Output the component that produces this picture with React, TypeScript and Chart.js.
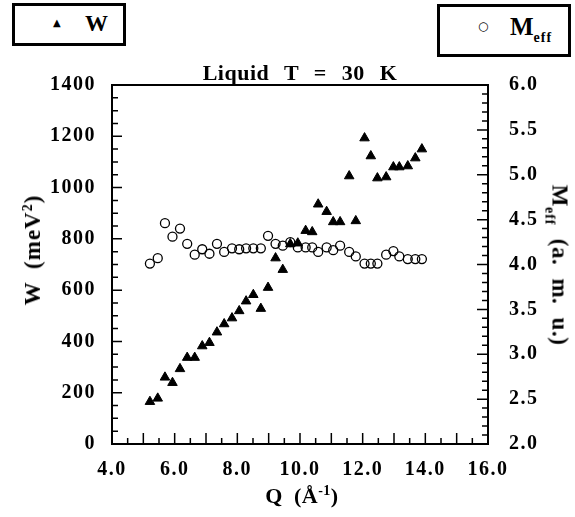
import React, { useEffect, useRef } from "react";
import { Chart, registerables } from "chart.js";

Chart.register(...registerables);

const Q = [5.21, 5.46, 5.69, 5.93, 6.17, 6.4, 6.64, 6.88, 7.11, 7.35, 7.58, 7.83, 8.06, 8.28, 8.51, 8.75, 8.98, 9.22, 9.45, 9.69, 9.93, 10.18, 10.39, 10.58, 10.85, 11.06, 11.28, 11.57, 11.78, 12.06, 12.26, 12.47, 12.75, 12.98, 13.17, 13.44, 13.68, 13.89];
const W = [165, 178, 260, 239, 293, 337, 337, 382, 395, 436, 468, 491, 519, 557, 582, 528, 610, 725, 680, 780, 783, 832, 827, 935, 906, 866, 866, 1045, 870, 1193, 1123, 1037, 1041, 1080, 1080, 1084, 1115, 1150];
const MEFF = [4.01, 4.07, 4.46, 4.31, 4.4, 4.23, 4.11, 4.17, 4.12, 4.23, 4.14, 4.18, 4.17, 4.18, 4.18, 4.18, 4.32, 4.23, 4.21, 4.25, 4.19, 4.19, 4.19, 4.14, 4.19, 4.16, 4.21, 4.14, 4.09, 4.01, 4.01, 4.01, 4.11, 4.15, 4.09, 4.06, 4.06, 4.06];

const X_TICKS = [4, 6, 8, 10, 12, 14, 16];
const W_TICKS = [0, 200, 400, 600, 800, 1000, 1200, 1400];
const M_TICKS = [2.0, 2.5, 3.0, 3.5, 4.0, 4.5, 5.0, 5.5, 6.0];

const FONT = "'Liberation Serif', 'Times New Roman', serif";

const framePlugin = {
  id: "frame",
  beforeDraw(chart: any) {
    chart.ctx.letterSpacing = "1.5px";
  },
  beforeDatasetsDraw(chart: any) {
    const { ctx, chartArea: a, scales } = chart;
    ctx.save();
    ctx.strokeStyle = "#000";
    ctx.lineWidth = 2;
    ctx.beginPath();
    ctx.moveTo(a.left - 1, a.top);
    ctx.lineTo(a.right + 1, a.top);
    ctx.stroke();
    ctx.lineWidth = 1.5;
    ctx.beginPath();
    for (let i = 0; i <= 28; i++) {
      const y = scales.y.getPixelForValue(i * 50);
      const len = i % 4 === 0 ? 10 : 6;
      ctx.moveTo(a.left, y);
      ctx.lineTo(a.left + len, y);
    }
    for (let i = 0; i <= 40; i++) {
      const y = scales.y1.getPixelForValue(2 + i * 0.1);
      const len = i % 5 === 0 ? 11 : 6;
      ctx.moveTo(a.right, y);
      ctx.lineTo(a.right - len, y);
    }
    for (let i = 0; i <= 24; i++) {
      const x = scales.x.getPixelForValue(4 + i * 0.5);
      const len = i % 2 === 0 ? 11 : 6;
      ctx.moveTo(x, a.bottom);
      ctx.lineTo(x, a.bottom - len);
    }
    ctx.stroke();
    ctx.restore();
  },
};

export default function App() {
  const ref = useRef<HTMLCanvasElement | null>(null);

  useEffect(() => {
    if (!ref.current) return;
    const tickFont = { family: FONT, size: 20, weight: "bold" as const };
    const chart = new Chart(ref.current, {
      type: "scatter",
      data: {
        datasets: [
          {
            label: "W",
            data: Q.map((q, i) => ({ x: q, y: W[i] })),
            yAxisID: "y",
            pointStyle: "triangle",
            pointRadius: 5.5,
            backgroundColor: "#000",
            borderColor: "#000",
            borderWidth: 1,
          },
          {
            label: "Meff",
            data: Q.map((q, i) => ({ x: q, y: MEFF[i] })),
            yAxisID: "y1",
            pointStyle: "circle",
            pointRadius: 4.5,
            backgroundColor: "rgba(0,0,0,0)",
            borderColor: "#000",
            borderWidth: 1.3,
          },
        ],
      },
      options: {
        animation: false,
        responsive: false,
        maintainAspectRatio: false,
        events: [],
        layout: { padding: { top: 85, left: 0, right: 0, bottom: 0 } },
        plugins: {
          legend: { display: false },
          tooltip: { enabled: false },
          title: { display: false },
        },
        scales: {
          x: {
            type: "linear",
            position: "bottom",
            min: 4,
            max: 16,
            afterBuildTicks: (s: any) => {
              s.ticks = X_TICKS.map((v) => ({ value: v }));
            },
            afterFit: (s: any) => {
              s.height = 73;
            },
            grid: { display: false },
            border: { display: true, color: "#000", width: 2 },
            ticks: {
              color: "#000",
              font: tickFont,
              padding: 6,
              maxRotation: 0,
              autoSkip: false,
              callback: (v: any) => Number(v).toFixed(1),
            },
          },
          y: {
            type: "linear",
            position: "left",
            min: 0,
            max: 1400,
            afterBuildTicks: (s: any) => {
              s.ticks = W_TICKS.map((v) => ({ value: v }));
            },
            afterFit: (s: any) => {
              s.width = 112;
            },
            grid: { display: false },
            border: { display: true, color: "#000", width: 2 },
            ticks: {
              color: "#000",
              font: tickFont,
              padding: 8,
              autoSkip: false,
              callback: (v: any) => String(v),
            },
          },
          y1: {
            type: "linear",
            position: "right",
            min: 2,
            max: 6,
            afterBuildTicks: (s: any) => {
              s.ticks = M_TICKS.map((v) => ({ value: v }));
            },
            afterFit: (s: any) => {
              s.width = 87;
            },
            grid: { display: false },
            border: { display: true, color: "#000", width: 2 },
            ticks: {
              color: "#000",
              font: tickFont,
              padding: 13,
              autoSkip: false,
              callback: (v: any) => Number(v).toFixed(1),
            },
          },
        },
      },
      plugins: [framePlugin],
    });
    return () => chart.destroy();
  }, []);

  const bold: React.CSSProperties = {
    fontFamily: FONT,
    fontWeight: "bold",
    color: "#000",
    whiteSpace: "pre",
    position: "absolute",
  };

  return (
    <div style={{ position: "fixed", left: 0, top: 0, width: 575, height: 517, background: "#fff" }}>
      <canvas ref={ref} width={575} height={517} style={{ position: "absolute", left: 0, top: 0, width: 575, height: 517 }} />
      <div style={{ position: "absolute", left: 12, top: 3, width: 114, height: 43, border: "3px solid #000", boxSizing: "border-box", background: "#fff" }}>
        <span style={{ ...bold, left: 38, top: 11, fontSize: 10, fontFamily: "'DejaVu Sans', sans-serif" }}>▲</span>
        <span style={{ ...bold, left: 70, top: 5, fontSize: 23 }}>W</span>
      </div>
      <div style={{ position: "absolute", left: 437, top: 4, width: 134, height: 53, border: "3px solid #000", boxSizing: "border-box", background: "#fff" }}>
        <span style={{ ...bold, left: 38, top: 12, fontSize: 12, fontWeight: "normal", fontFamily: "'DejaVu Sans', sans-serif" }}>○</span>
        <span style={{ ...bold, left: 70, top: 6, fontSize: 25 }}>
          M<sub style={{ fontSize: 14, verticalAlign: "-7px", letterSpacing: 1 }}>eff</sub>
        </span>
      </div>
      <div style={{ ...bold, left: 300, top: 73, fontSize: 22, wordSpacing: 9, letterSpacing: 0.5, transform: "translate(-50%, -50%)" }}>Liquid T = 30 K</div>
      <div style={{ ...bold, left: 33, top: 250, fontSize: 23, wordSpacing: 6, letterSpacing: 1, transform: "translate(-50%, -50%) rotate(-90deg)" }}>
        W (meV<sup style={{ fontSize: 14, verticalAlign: "8px" }}>2</sup>)
      </div>
      <div style={{ ...bold, left: 557, top: 265, fontSize: 23, wordSpacing: 7, letterSpacing: 0.5, transform: "translate(-50%, -50%) rotate(90deg)" }}>
        M<sub style={{ fontSize: 14, verticalAlign: "-7px", letterSpacing: 1 }}>eff</sub> (a. m. u.)
      </div>
      <div style={{ ...bold, left: 302, top: 496, fontSize: 22, wordSpacing: 5, letterSpacing: 0.5, transform: "translate(-50%, -50%)" }}>
        Q (Å<sup style={{ fontSize: 14, verticalAlign: "8px" }}>-1</sup>)
      </div>
    </div>
  );
}
